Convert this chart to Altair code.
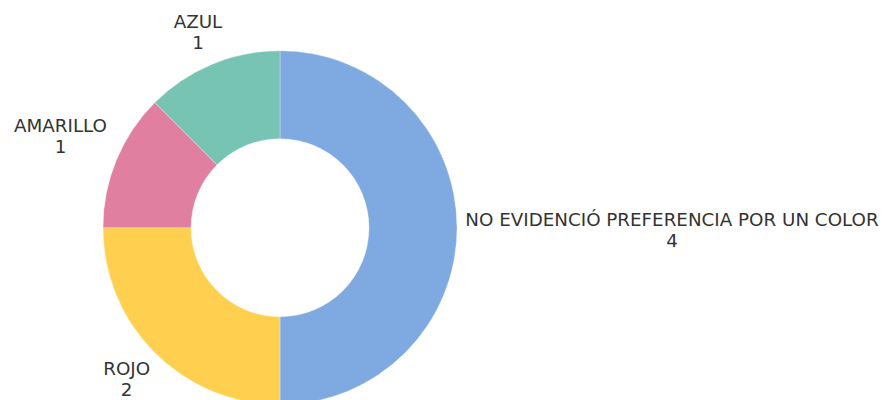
import altair as alt
import pandas as pd

categorias = ["NO EVIDENCIÓ PREFERENCIA POR UN COLOR", "ROJO", "AMARILLO", "AZUL"]
valores = [4, 2, 1, 1]
colores = ["#7FAAE1", "#FFD04F", "#E07FA0", "#78C4B4"]

df = pd.DataFrame({"categoria": categorias, "valor": valores, "orden": list(range(len(categorias)))})
total = sum(valores)

CX, CY = 272, 219.7
theta_scale = alt.Scale(domain=[0, total])

base = alt.Chart(df)

arc = base.mark_arc(outerRadius=177, innerRadius=89, stroke="#ffffff", strokeWidth=0.3).encode(
    theta=alt.Theta("valor:Q", stack=True, scale=theta_scale),
    color=alt.Color("categoria:N", scale=alt.Scale(domain=categorias, range=colores), legend=None),
    order=alt.Order("orden:Q"),
    x=alt.value(CX),
    y=alt.value(CY),
)

offsets = {
    "NO EVIDENCIÓ PREFERENCIA POR UN COLOR": (192, -6.7),
    "ROJO": (-11.9, 1.1),
    "AMARILLO": (-34.7, -23.7),
    "AZUL": (-5.5, -19.9),
}

layers = [arc]
for cat in categorias:
    dx, dy = offsets[cat]
    t = (
        base.transform_stack(stack="valor", groupby=[], as_=["s0", "s1"], sort=[alt.SortField("orden", "ascending")])
        .transform_calculate(mid="(datum.s0 + datum.s1) / 2", etiqueta="[datum.categoria, toString(datum.valor)]")
        .transform_filter(alt.datum.categoria == cat)
        .mark_text(radius=200, dx=dx, dy=dy, align="center", baseline="middle",
                   font="DejaVu Sans", fontSize=18.3, lineHeight=21, color="#333333")
        .encode(
            theta=alt.Theta("mid:Q", stack=None, scale=theta_scale),
            text=alt.Text("etiqueta:N"),
            x=alt.value(CX),
            y=alt.value(CY),
        )
    )
    layers.append(t)

chart = alt.layer(*layers).properties(
    width=872, height=392, autosize=alt.AutoSizeParams(type="none"), padding=0
).configure_view(stroke=None)

chart.save("out.html", embed_options={"renderer": "svg", "actions": False})
